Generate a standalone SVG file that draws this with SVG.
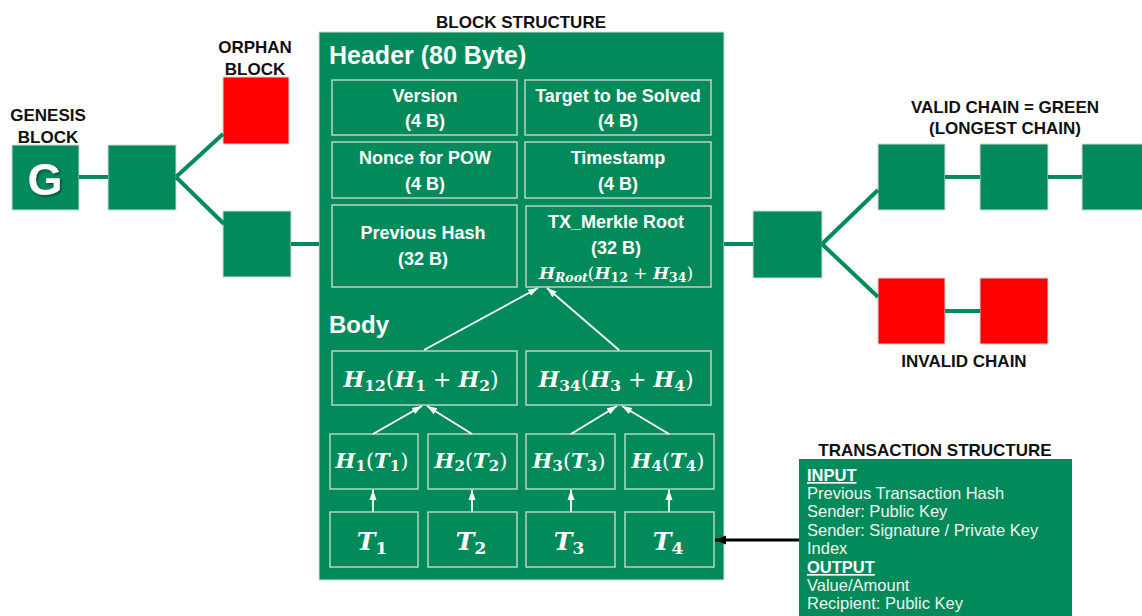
<svg xmlns="http://www.w3.org/2000/svg" width="1142" height="616" viewBox="0 0 1142 616">
  <style>
    .blk { fill: #028a5a; stroke: #d6d6d6; stroke-width: 1; }
    .bad { fill: #ff0000; stroke: #d6d6d6; stroke-width: 1; }
    .link { stroke: #028a5a; stroke-width: 4; fill: none; }
    .cell { fill: none; stroke: #b9d3c4; stroke-width: 1.5; }
    .lbl { font-family: "Liberation Sans", Arial, sans-serif; font-weight: bold; font-size: 17px; fill: #111; text-anchor: middle; }
    .hd { font-family: "Liberation Sans", Arial, sans-serif; font-weight: bold; fill: #fff; }
    .ct { font-family: "Liberation Sans", Arial, sans-serif; font-weight: bold; font-size: 18px; fill: #fff; text-anchor: middle; }
    .m { font-family: "DejaVu Serif", "Liberation Serif", serif; font-weight: bold; font-style: italic; fill: #fff; text-anchor: middle; }
    .up { font-style: normal; font-weight: normal; }
    .sd { font-style: normal; }
    .tx { font-family: "Liberation Sans", Arial, sans-serif; font-size: 16.5px; fill: #eef5f0; }
    .tb { font-weight: bold; text-decoration: underline; fill: #fff; }
    .wa { stroke: #fff; stroke-width: 1.8; fill: none; }
  </style>
  <defs>
    <marker id="wh" markerUnits="userSpaceOnUse" markerWidth="10" markerHeight="10" viewBox="0 0 10 10" refX="10" refY="5" orient="auto">
      <path d="M0,1.5 L10,5 L0,8.5 Z" fill="#fff"/>
    </marker>
    <marker id="bk" markerUnits="userSpaceOnUse" markerWidth="12" markerHeight="12" viewBox="0 0 12 12" refX="11" refY="6" orient="auto">
      <path d="M0,1.5 L11,6 L0,10.5 Z" fill="#000"/>
    </marker>
    <filter id="shadow" x="-20%" y="-20%" width="150%" height="150%">
      <feDropShadow dx="1.5" dy="1.5" stdDeviation="1" flood-color="#000" flood-opacity="0.45"/>
    </filter>
  </defs>

  <!-- left side of the chain -->
  <g id="genesis">
    <text class="lbl" x="48" y="121">GENESIS</text>
    <text class="lbl" x="48" y="143">BLOCK</text>
    <rect class="blk" x="12" y="145" width="67" height="65"/>
    <text x="45" y="195" font-family="Liberation Sans, Arial, sans-serif" font-weight="bold" font-size="45" fill="#fff" text-anchor="middle" filter="url(#shadow)">G</text>
  </g>
  <g id="block-2">
    <rect class="blk" x="108" y="145" width="68" height="65"/>
  </g>
  <g id="orphan">
    <text class="lbl" x="255" y="53">ORPHAN</text>
    <text class="lbl" x="255" y="75">BLOCK</text>
    <rect class="bad" x="223" y="77" width="66" height="67"/>
  </g>
  <g id="block-3">
    <rect class="blk" x="223" y="211" width="68" height="66"/>
  </g>

  <!-- block structure -->
  <g id="block-structure">
    <text class="lbl" x="521" y="28">BLOCK STRUCTURE</text>
    <rect x="319" y="32" width="405" height="548" fill="#028a5a" stroke="#cfe0d6" stroke-width="1"/>
    <text class="hd" x="329" y="64" font-size="25">Header (80 Byte)</text>
    <text class="hd" x="329" y="333" font-size="24">Body</text>
  </g>
  <g id="version">
    <rect class="cell" x="332" y="80" width="185" height="55"/>
    <text class="ct" x="425" y="102">Version</text>
    <text class="ct" x="425" y="127">(4 B)</text>
  </g>
  <g id="target">
    <rect class="cell" x="525" y="80" width="186" height="55"/>
    <text class="ct" x="618" y="102">Target to be Solved</text>
    <text class="ct" x="618" y="127">(4 B)</text>
  </g>
  <g id="nonce">
    <rect class="cell" x="332" y="142" width="185" height="56"/>
    <text class="ct" x="425" y="164">Nonce for POW</text>
    <text class="ct" x="425" y="190">(4 B)</text>
  </g>
  <g id="timestamp">
    <rect class="cell" x="525" y="142" width="186" height="56"/>
    <text class="ct" x="618" y="164">Timestamp</text>
    <text class="ct" x="618" y="190">(4 B)</text>
  </g>
  <g id="previous-hash">
    <rect class="cell" x="332" y="205" width="185" height="82"/>
    <text class="ct" x="423" y="239">Previous Hash</text>
    <text class="ct" x="423" y="265">(32 B)</text>
  </g>
  <g id="merkle-root">
    <rect class="cell" x="526" y="206" width="185" height="81"/>
    <text class="ct" x="616" y="228">TX_Merkle Root</text>
    <text class="ct" x="616" y="254">(32 B)</text>
    <text class="m" x="616" y="279" font-size="17">H<tspan font-size="12.5" dy="3">Root</tspan><tspan class="up" dy="-3">(</tspan>H<tspan class="sd" font-size="12.5" dy="3">12</tspan><tspan class="up" dy="-3"> + </tspan>H<tspan class="sd" font-size="12.5" dy="3">34</tspan><tspan class="up" dy="-3">)</tspan></text>
  </g>
  <g id="h12">
    <rect class="cell" x="332" y="351" width="185" height="54"/>
    <text class="m" x="421" y="387" font-size="22">H<tspan class="sd" font-size="15.5" dy="4">12</tspan><tspan class="up" dy="-4">(</tspan>H<tspan class="sd" font-size="15.5" dy="4">1</tspan><tspan class="up" dy="-4"> + </tspan>H<tspan class="sd" font-size="15.5" dy="4">2</tspan><tspan class="up" dy="-4">)</tspan></text>
  </g>
  <g id="h34">
    <rect class="cell" x="526" y="351" width="185" height="54"/>
    <text class="m" x="616" y="387" font-size="22">H<tspan class="sd" font-size="15.5" dy="4">34</tspan><tspan class="up" dy="-4">(</tspan>H<tspan class="sd" font-size="15.5" dy="4">3</tspan><tspan class="up" dy="-4"> + </tspan>H<tspan class="sd" font-size="15.5" dy="4">4</tspan><tspan class="up" dy="-4">)</tspan></text>
  </g>
  <g id="h1">
    <rect class="cell" x="330" y="434" width="88" height="55"/>
    <text class="m" x="372" y="468" font-size="21">H<tspan class="sd" font-size="15" dy="3">1</tspan><tspan class="up" dy="-3">(</tspan>T<tspan class="sd" font-size="15" dy="3">1</tspan><tspan class="up" dy="-3">)</tspan></text>
  </g>
  <g id="h2">
    <rect class="cell" x="428" y="434" width="89" height="55"/>
    <text class="m" x="471" y="468" font-size="21">H<tspan class="sd" font-size="15" dy="3">2</tspan><tspan class="up" dy="-3">(</tspan>T<tspan class="sd" font-size="15" dy="3">2</tspan><tspan class="up" dy="-3">)</tspan></text>
  </g>
  <g id="h3">
    <rect class="cell" x="526" y="434" width="89" height="55"/>
    <text class="m" x="569" y="468" font-size="21">H<tspan class="sd" font-size="15" dy="3">3</tspan><tspan class="up" dy="-3">(</tspan>T<tspan class="sd" font-size="15" dy="3">3</tspan><tspan class="up" dy="-3">)</tspan></text>
  </g>
  <g id="h4">
    <rect class="cell" x="625" y="434" width="89" height="55"/>
    <text class="m" x="668" y="468" font-size="21">H<tspan class="sd" font-size="15" dy="3">4</tspan><tspan class="up" dy="-3">(</tspan>T<tspan class="sd" font-size="15" dy="3">4</tspan><tspan class="up" dy="-3">)</tspan></text>
  </g>
  <g id="t1">
    <rect class="cell" x="330" y="512" width="88" height="55"/>
    <text class="m" x="372" y="550" font-size="25">T<tspan class="sd" font-size="17" dy="4">1</tspan></text>
  </g>
  <g id="t2">
    <rect class="cell" x="428" y="512" width="89" height="55"/>
    <text class="m" x="471" y="550" font-size="25">T<tspan class="sd" font-size="17" dy="4">2</tspan></text>
  </g>
  <g id="t3">
    <rect class="cell" x="526" y="512" width="89" height="55"/>
    <text class="m" x="569" y="550" font-size="25">T<tspan class="sd" font-size="17" dy="4">3</tspan></text>
  </g>
  <g id="t4">
    <rect class="cell" x="625" y="512" width="89" height="55"/>
    <text class="m" x="668" y="550" font-size="25">T<tspan class="sd" font-size="17" dy="4">4</tspan></text>
  </g>

  <!-- hash tree arrows -->
  <g id="tree-arrows">
    <line class="wa" x1="424" y1="350" x2="538" y2="288" marker-end="url(#wh)"/>
    <line class="wa" x1="619" y1="350" x2="547" y2="288" marker-end="url(#wh)"/>
    <line class="wa" x1="373" y1="434" x2="422" y2="406" marker-end="url(#wh)"/>
    <line class="wa" x1="472" y1="434" x2="427" y2="406" marker-end="url(#wh)"/>
    <line class="wa" x1="571" y1="434" x2="617" y2="406" marker-end="url(#wh)"/>
    <line class="wa" x1="669" y1="434" x2="622" y2="406" marker-end="url(#wh)"/>
    <line class="wa" x1="373" y1="512" x2="373" y2="490" marker-end="url(#wh)"/>
    <line class="wa" x1="472" y1="512" x2="472" y2="490" marker-end="url(#wh)"/>
    <line class="wa" x1="571" y1="512" x2="571" y2="490" marker-end="url(#wh)"/>
    <line class="wa" x1="669" y1="512" x2="669" y2="490" marker-end="url(#wh)"/>
  </g>

  <!-- right side: fork into valid and invalid chains -->
  <g id="block-next">
    <rect class="blk" x="753" y="211" width="69" height="67"/>
  </g>
  <g id="valid-chain">
    <text class="lbl" x="1005" y="113">VALID CHAIN = GREEN</text>
    <text class="lbl" x="1005" y="134">(LONGEST CHAIN)</text>
  </g>
  <g id="valid-1">
    <rect class="blk" x="878" y="144" width="67" height="66"/>
  </g>
  <g id="valid-2">
    <rect class="blk" x="980" y="144" width="68" height="66"/>
  </g>
  <g id="valid-3">
    <rect class="blk" x="1082" y="144" width="68" height="66"/>
  </g>
  <g id="invalid-1">
    <rect class="bad" x="878" y="278" width="67" height="66"/>
  </g>
  <g id="invalid-2">
    <rect class="bad" x="980" y="278" width="68" height="66"/>
  </g>
  <g id="invalid-chain">
    <text class="lbl" x="964" y="367">INVALID CHAIN</text>
  </g>

  <!-- transaction structure -->
  <g id="transaction">
    <text class="lbl" x="935" y="456">TRANSACTION STRUCTURE</text>
    <rect x="799" y="459" width="273" height="160" fill="#028a5a"/>
    <text class="tx" x="807" y="481"><tspan class="tb">INPUT</tspan></text>
    <text class="tx" x="807" y="499">Previous Transaction Hash</text>
    <text class="tx" x="807" y="517">Sender: Public Key</text>
    <text class="tx" x="807" y="536">Sender: Signature / Private Key</text>
    <text class="tx" x="807" y="554">Index</text>
    <text class="tx" x="807" y="573"><tspan class="tb">OUTPUT</tspan></text>
    <text class="tx" x="807" y="591">Value/Amount</text>
    <text class="tx" x="807" y="609">Recipient: Public Key</text>
  </g>

  <!-- chain links, drawn last so the arrow into T4 sits on top -->
  <g id="connectors">
    <line class="link" x1="79" y1="177" x2="108" y2="177"/>
    <line class="link" x1="176" y1="177" x2="223" y2="134"/>
    <line class="link" x1="176" y1="177" x2="224" y2="224"/>
    <line class="link" x1="291" y1="244" x2="319" y2="244"/>
    <line class="link" x1="724" y1="244" x2="753" y2="244"/>
    <line class="link" x1="822" y1="244" x2="878" y2="190"/>
    <line class="link" x1="822" y1="244" x2="878" y2="297"/>
    <line class="link" x1="945" y1="177" x2="980" y2="177"/>
    <line class="link" x1="1048" y1="177" x2="1082" y2="177"/>
    <line class="link" x1="945" y1="311" x2="980" y2="311"/>
    <line x1="799" y1="540" x2="715" y2="540" stroke="#000" stroke-width="3" marker-end="url(#bk)"/>
  </g>
</svg>
